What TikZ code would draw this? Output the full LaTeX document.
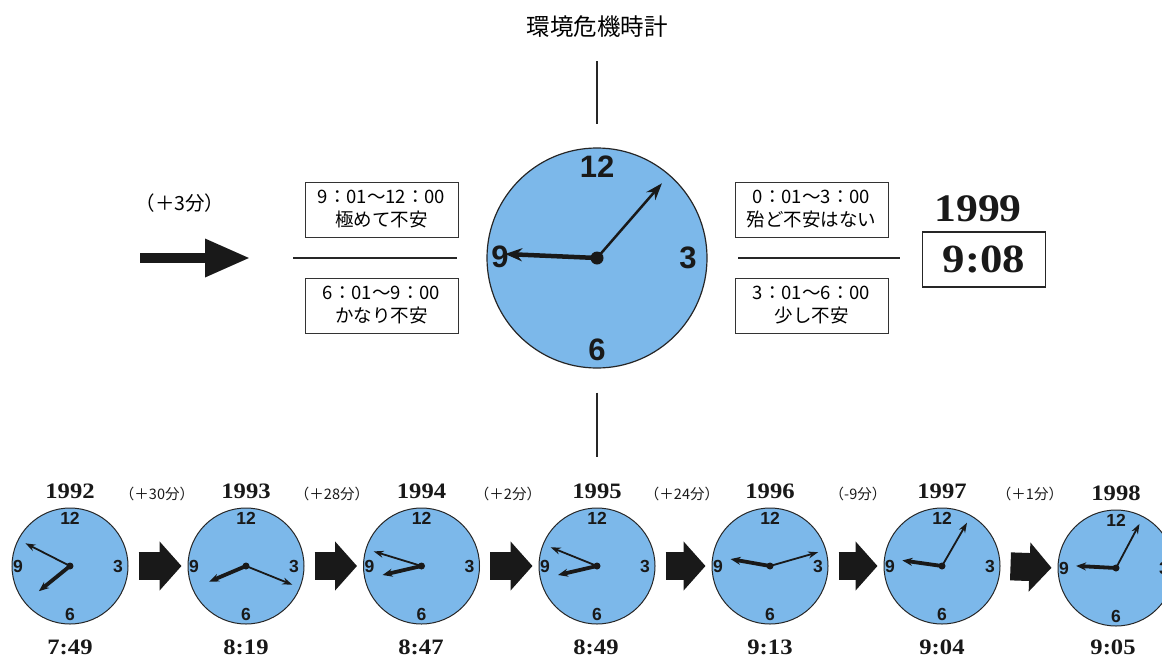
\documentclass[tikz,border=0pt]{standalone}
\usepackage{fontspec}
\setmainfont{Liberation Serif}
\newfontfamily\jp{Noto Sans CJK JP}
\newfontfamily\clk{Liberation Sans}
\newfontfamily\wide{Liberation Serif}[FakeStretch=1.12]
\usetikzlibrary{arrows.meta}
\definecolor{face}{RGB}{124,184,234}
\definecolor{ink}{RGB}{25,25,25}
\newcommand{\drawsclock}[6]{%
  \node[sclock] (#1) at (#2,#3) {};
  \path (#1.center) ++(0,-48) node[snum] {12};
  \path (#1.center) ++(48,0) node[snum] {3};
  \path (#1.center) ++(0,48) node[snum] {6};
  \path (#1.center) ++(-52,0) node[snum] {9};
  \draw[shour] (#1.center) -- ++(#4-90:40);
  \draw[smin] (#1.center) -- ++(#5-90:50);
  \fill[ink] (#1.center) circle (3.5pt);
  \path (#1.center) ++(0,-75) node[year] {#6};
}
\begin{document}
\begin{tikzpicture}[x=1pt,y=-1pt,
  box/.style={draw=black!80, line width=1, minimum width=153, minimum height=55, inner sep=0, align=center, font=\jp\fontsize{18.5}{23}\selectfont},
  bignum/.style={font=\clk\bfseries\fontsize{31}{31}\selectfont, text=ink, inner sep=0},
  snum/.style={font=\clk\bfseries\fontsize{17.5}{17.5}\selectfont, text=ink, inner sep=0},
  sclock/.style={circle, draw=black!85, fill=face, line width=1, minimum size=116, inner sep=0},
  shour/.style={ink, line width=3.8, -{Stealth[length=10,width=8]}},
  smin/.style={ink, line width=1.8, -{Stealth[length=10,width=7]}},
  year/.style={font=\wide\bfseries\fontsize{22}{22}\selectfont, text=ink, inner sep=0},
  tlabel/.style={font=\wide\bfseries\fontsize{22}{22}\selectfont, text=ink, inner sep=0},
  delta/.style={font=\jp\fontsize{14.5}{14.5}\selectfont, text=ink, inner sep=0},
  blockarrow/.style={ink, line width=28, -{Triangle[length=22,width=48]}, shorten <=10, shorten >=6},
  divider/.style={black!85, line width=1.2}
]
\useasboundingbox (0,0) rectangle (1162,659);
\clip (0,0) rectangle (1162,659);

% title
\node[font=\jp\fontsize{23.5}{23.5}\selectfont, inner sep=0] (title) at (597,27) {環境危機時計};

% main clock
\node[circle, draw=black!85, fill=face, line width=1.2, minimum size=220, inner sep=0] (main) at (597,258) {};
\path (main.center) ++(0,-91) node[bignum] {12};
\path (main.center) ++(91,0) node[bignum] {3};
\path (main.center) ++(0,92) node[bignum] {6};
\path (main.center) ++(-97,-1) node[bignum] {9};
\draw[ink, line width=4.5, -{Stealth[length=17,width=13]}] (main.center) -- ++(182.5:92);
\draw[ink, line width=2.5, -{Stealth[length=17,width=12]}] (main.center) -- ++(-49:99);
\fill[ink] (main.center) circle (6.5pt);

% vertical connectors
\draw[divider, shorten <=23, shorten >=23] (title.south) -- (main.north);

% left side
\node[box] (b1) at (381.5,209.5) {9：01～12：00\\極めて不安};
\node[box] (b2) at (381.5,305.5) {6：01～9：00\\かなり不安};
\coordinate (l1) at (293,258);
\coordinate (l2) at (457,258);
\draw[divider] (l1) -- (l2);

% right side
\node[box] (b3) at (811.5,209.5) {0：01～3：00\\殆ど不安はない};
\node[box] (b4) at (811.5,305.5) {3：01～6：00\\少し不安};
\coordinate (r1) at (738,258);
\coordinate (r2) at (900,258);
\draw[divider] (r1) -- (r2);

% 1999
\node[font=\wide\bfseries\fontsize{39}{39}\selectfont, text=ink, inner sep=0] (y1999) at (978,209) {1999};
\node[draw=black!85, line width=1.2, minimum width=123, minimum height=55, inner sep=0,
      font=\wide\bfseries\fontsize{40}{40}\selectfont, text=ink] (t1999) at (984,259.5) {9:08};

% (+3分) arrow
\node[font=\jp\fontsize{19.5}{19.5}\selectfont, inner sep=0] (d3) at (180,203) {（＋3分）};
\coordinate (a1) at (140,258);
\coordinate (a2) at (250,258);
\draw[ink, line width=9.5, -{Triangle[length=45,width=36]}] (a1) -- (a2);

% bottom clocks
\drawsclock{c1}{70}{566}{231}{297}{1992}
\drawsclock{c2}{246}{566}{247}{112}{1993}
\drawsclock{c3}{421.5}{566}{257}{287}{1994}
\drawsclock{c4}{597}{566}{257}{292}{1995}
\drawsclock{c5}{770}{566}{280}{74}{1996}
\drawsclock{c6}{942}{566}{278}{30}{1997}
\drawsclock{c7}{1116}{568}{273}{28}{1998}

\draw[divider, shorten <=24, shorten >=51] (main.south) -- (c4.north);

% time labels
\node[tlabel] at (70,647) {7:49};
\node[tlabel] at (246,647) {8:19};
\node[tlabel] at (421,647) {8:47};
\node[tlabel] at (596,647) {8:49};
\node[tlabel] at (770,647) {9:13};
\node[tlabel] at (942,647) {9:04};
\node[tlabel] at (1113,647) {9:05};

% block arrows and deltas
\draw[blockarrow] (c1.east) -- (c2.west);
\draw[blockarrow] (c2.east) -- (c3.west);
\draw[blockarrow] (c3.east) -- (c4.west);
\draw[blockarrow] (c4.east) -- (c5.west);
\draw[blockarrow] (c5.east) -- (c6.west);
\draw[blockarrow] (c6.east) -- (c7.west);
\node[delta] at (157,494) {（＋30分）};
\node[delta] at (332,494) {（＋28分）};
\node[delta] at (508,494) {（＋2分）};
\node[delta] at (682,494) {（＋24分）};
\node[delta] at (858,494) {（-9分）};
\node[delta] at (1030,494) {（＋1分）};
\end{tikzpicture}
\end{document}
